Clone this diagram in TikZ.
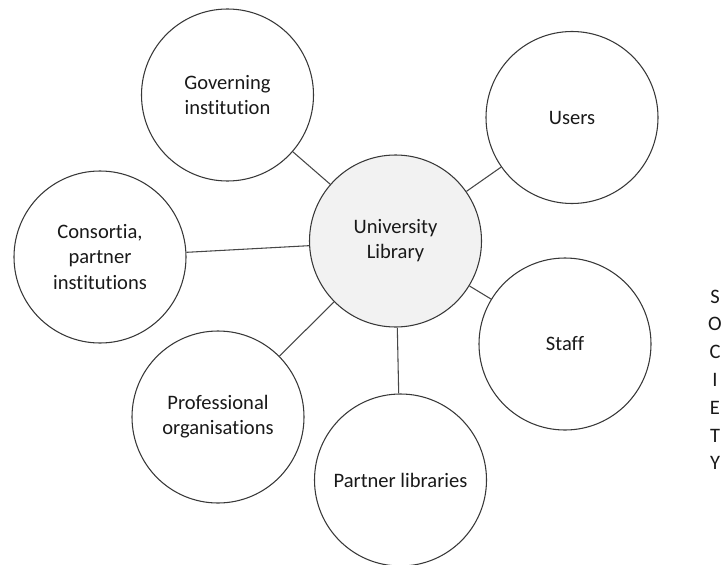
\documentclass[tikz,border=0pt]{standalone}
\usepackage{fontspec}
\setmainfont{Carlito}[Ligatures=NoCommon]
\begin{document}
\begin{tikzpicture}[x=0.75pt,y=-0.75pt,
  font=\fontsize{15.4pt}{18.8pt}\selectfont,
  actor/.style={circle,draw=black!78,line width=0.8pt,fill=white,
    minimum size=129pt,inner sep=0pt,align=center,text=black!90},
  hub/.style={actor,fill=black!5},
  link/.style={draw=black!72,line width=0.8pt},
  letter/.style={inner sep=0pt,text=black!90}]
\useasboundingbox (0,0) rectangle (721,564);
% central library and its partners
\node[hub]   (lib)  at (395.5,241) {University\\Library};
\node[actor] (gov)  at (227.5,95)  {Governing\\institution};
\node[actor] (usr)  at (572,117.5) {Users};
\node[actor] (cons) at (100,257)   {Consortia,\\partner\\institutions};
\node[actor] (stf)  at (565,344)   {Staff};
\node[actor] (prof) at (218,417)   {Professional\\organisations};
\node[actor] (plib) at (400.5,480) {Partner libraries};
% links from the hub
\foreach \t in {gov,usr,cons,stf,prof,plib}
  \draw[link] (lib) -- (\t);
% vertical caption
\foreach \ch [count=\i from 0] in {S,O,C,I,E,T,Y}
  \node[letter] (soc\i) at (715,296.5+27.8*\i) {\ch};
\end{tikzpicture}
\end{document}
